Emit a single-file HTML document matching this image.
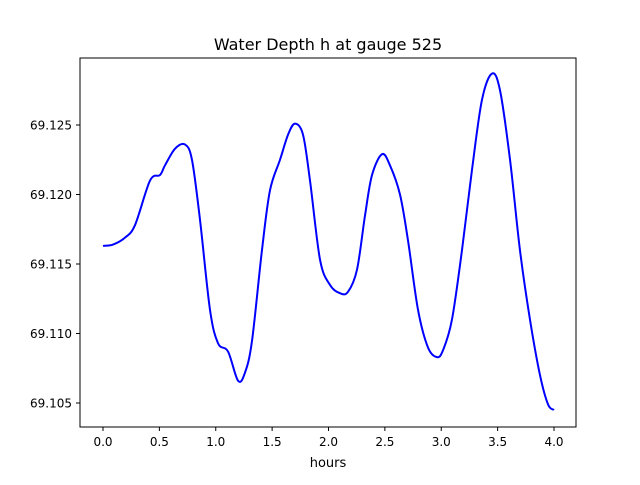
<!DOCTYPE html>
<html><head><meta charset="utf-8"><style>
body{margin:0;background:#fff;}
svg text{font-family:"DejaVu Sans","Liberation Sans",sans-serif;fill:#000;}
</style></head><body>
<svg id="chart" width="640" height="480" xmlns="http://www.w3.org/2000/svg">
<rect width="640" height="480" fill="#fff"/>
<text x="328" y="50" font-size="16" text-anchor="middle">Water Depth h at gauge 525</text>
<g id="xt"></g>
<g id="yt"></g>
<text x="328" y="467" font-size="13" text-anchor="middle">hours</text>
<path id="line" fill="none" stroke="#0000ff" stroke-width="2"/>
<rect x="80" y="58" width="496" height="369" fill="none" stroke="#000" stroke-width="1"/>
</svg>
<script>
const hours=[0,.089,.195,.284,.417,.505,.550,.639,.727,.789,.860,.949,1.02,1.109,1.198,1.26,1.322,1.410,1.481,1.570,1.641,1.703,1.774,1.836,1.925,2.013,2.102,2.173,2.253,2.324,2.386,2.475,2.545,2.634,2.705,2.794,2.882,2.962,3.016,3.095,3.184,3.273,3.361,3.450,3.521,3.610,3.698,3.787,3.876,3.947,4.0];
const depth=[69.1163,69.1164,69.1169,69.1178,69.1210,69.1214,69.1221,69.1233,69.1236,69.1225,69.1182,69.1117,69.1093,69.1087,69.1066,69.1072,69.1095,69.1160,69.1203,69.1225,69.1243,69.1251,69.1243,69.1210,69.1153,69.1135,69.1129,69.1130,69.1146,69.1185,69.1214,69.1229,69.1221,69.1200,69.1167,69.1117,69.1090,69.1083,69.1088,69.1110,69.1160,69.1218,69.1268,69.1287,69.1275,69.1225,69.1160,69.1110,69.1070,69.1049,69.1045];
const xTicks=[0,0.5,1,1.5,2,2.5,3,3.5,4];
const yTicks=[69.105,69.110,69.115,69.120,69.125];
const NS="http://www.w3.org/2000/svg";
const X=v=>103+v*112.75;
const Y=v=>125+(69.125-v)/0.005*69.5;
const xt=document.getElementById('xt'),yt=document.getElementById('yt');
xTicks.forEach(t=>{
 const l=document.createElementNS(NS,'line');
 
 
 l.setAttribute('x1',X(t));l.setAttribute('x2',X(t));l.setAttribute('y1',427);l.setAttribute('y2',431);l.setAttribute('stroke','#000');
 xt.appendChild(l);
 const s=document.createElementNS(NS,'text');
 
 
 s.setAttribute('x',X(t));s.setAttribute('y',446);s.setAttribute('font-size','12');s.setAttribute('text-anchor','middle');
 s.textContent=t.toFixed(1);xt.appendChild(s);
});
yTicks.forEach(t=>{
 const l=document.createElementNS(NS,'line');
 
 
 l.setAttribute('x1',76);l.setAttribute('x2',80);l.setAttribute('y1',Y(t));l.setAttribute('y2',Y(t));l.setAttribute('stroke','#000');
 yt.appendChild(l);
 const s=document.createElementNS(NS,'text');
 
 
 s.setAttribute('x',72);s.setAttribute('y',Y(t)+4.5);s.setAttribute('font-size','12');s.setAttribute('text-anchor','end');
 s.textContent=t.toFixed(3);yt.appendChild(s);
});
const P=hours.map((h,i)=>[X(h),Y(depth[i])]);
let d='M'+P[0][0]+','+P[0][1];
for(let i=0;i<P.length-1;i++){
 const p0=P[Math.max(0,i-1)],p1=P[i],p2=P[i+1],p3=P[Math.min(P.length-1,i+2)];
 const c1=[p1[0]+(p2[0]-p0[0])/6,p1[1]+(p2[1]-p0[1])/6];
 const c2=[p2[0]-(p3[0]-p1[0])/6,p2[1]-(p3[1]-p1[1])/6];
 d+=` C${c1[0]},${c1[1]} ${c2[0]},${c2[1]} ${p2[0]},${p2[1]}`;
}
document.getElementById('line').setAttribute('d',d);
</script>
</body></html>
